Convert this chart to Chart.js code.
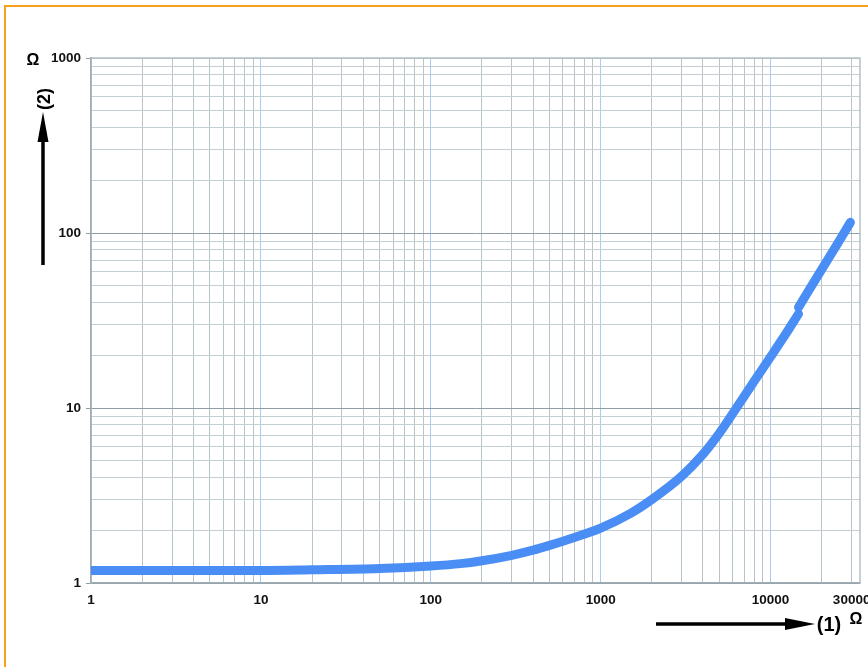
<!DOCTYPE html>
<html><head><meta charset="utf-8">
<script src="https://cdn.jsdelivr.net/npm/chart.js@4"></script>
<style>html,body{margin:0;padding:0;background:#fff;overflow:hidden;}</style>
</head><body>
<canvas id="c" width="868" height="667"></canvas>
<script>
// ---- data (curve has a small step at ~14.6 kΩ) ----
const lowerX = [1, 2, 5, 10, 20, 50, 100, 150, 200, 300, 400, 500, 700, 1000, 1500, 2000, 3000, 4000, 5000, 6000, 8000, 10000, 12000, 14600];
const lowerY = [1.18, 1.18, 1.18, 1.18, 1.19, 1.21, 1.25, 1.29, 1.34, 1.44, 1.54, 1.64, 1.82, 2.06, 2.5, 3.0, 4.08, 5.44, 7.19, 9.32, 14.2, 19.6, 25.6, 34.5];
const upperX = [14600, 20000, 25000, 29500];
const upperY = [37.6, 62, 88, 115];

const xTickValues = [1,2,3,4,5,6,7,8,9,10,20,30,40,50,60,70,80,90,100,200,300,400,500,600,700,800,900,1000,2000,3000,4000,5000,6000,7000,8000,9000,10000,20000,30000];
const xTickLabels = ['1','10','100','1000','10000','30000'];
const xLabelValues = [1,10,100,1000,10000,30000];
const yTickValues = [1,2,3,4,5,6,7,8,9,10,20,30,40,50,60,70,80,90,100,200,300,400,500,600,700,800,900,1000];
const yTickLabels = ['1','10','100','1000'];
const yLabelValues = [1,10,100,1000];
const xMin = 1, xMax = 33600, yMin = 1, yMax = 1000;

const toPoints = (xs, ys) => xs.map((x, i) => ({x: x, y: ys[i]}));
const isDecade = v => Math.abs(Math.log10(v) - Math.round(Math.log10(v))) < 1e-9;
const tickFont = {family: '"Liberation Sans", Arial, sans-serif', size: 13.5, weight: 'bold'};
const curveStyle = {
  borderColor: '#4a8ef5', backgroundColor: '#4a8ef5', borderWidth: 9, pointRadius: 0,
  borderCapStyle: 'round', borderJoinStyle: 'round', cubicInterpolationMode: 'monotone', fill: false
};

const decor = {
  id: 'decor',
  beforeDraw(chart) {
    const ctx = chart.ctx;
    ctx.save();
    ctx.fillStyle = '#ffffff';
    ctx.fillRect(0, 0, chart.width, chart.height);
    ctx.strokeStyle = '#f7a11a';
    ctx.lineWidth = 2;
    ctx.beginPath();
    ctx.moveTo(5, 667); ctx.lineTo(5, 6); ctx.lineTo(868, 6);
    ctx.stroke();
    ctx.restore();
  },
  afterDraw(chart) {
    const ctx = chart.ctx;
    const a = chart.chartArea;
    ctx.save();
    ctx.strokeStyle = '#b4c1c6';
    ctx.lineWidth = 1.5;
    ctx.beginPath();
    ctx.moveTo(a.left, a.top); ctx.lineTo(a.right, a.top); ctx.lineTo(a.right, a.bottom);
    ctx.stroke();
    ctx.strokeStyle = '#000'; ctx.fillStyle = '#000';
    ctx.lineWidth = 3.5;
    ctx.beginPath(); ctx.moveTo(43, 265); ctx.lineTo(43, 138); ctx.stroke();
    ctx.beginPath(); ctx.moveTo(43, 112); ctx.lineTo(37.5, 142); ctx.lineTo(48.5, 142); ctx.closePath(); ctx.fill();
    ctx.beginPath(); ctx.moveTo(656, 624); ctx.lineTo(788, 624); ctx.stroke();
    ctx.beginPath(); ctx.moveTo(815, 624); ctx.lineTo(785, 618); ctx.lineTo(785, 630); ctx.closePath(); ctx.fill();
    ctx.textAlign = 'center'; ctx.textBaseline = 'middle';
    ctx.font = 'bold 16px "Liberation Sans", Arial, sans-serif';
    ctx.fillText('\u03A9', 33, 61);
    ctx.fillText('\u03A9', 856, 620);
    ctx.font = 'bold 20px "Liberation Sans", Arial, sans-serif';
    ctx.fillText('(1)', 829, 625);
    ctx.save();
    ctx.translate(44, 99); ctx.rotate(-Math.PI / 2);
    ctx.font = 'bold 18px "Liberation Sans", Arial, sans-serif';
    ctx.fillText('(2)', 0, 1);
    ctx.restore();
    ctx.restore();
  }
};

new Chart(document.getElementById('c'), {
  type: 'line',
  data: {
    datasets: [
      Object.assign({data: toPoints(lowerX, lowerY)}, curveStyle),
      Object.assign({data: toPoints(upperX, upperY)}, curveStyle)
    ]
  },
  options: {
    responsive: false,
    animation: false,
    devicePixelRatio: 1,
    layout: {padding: {top: 58, right: 8, left: 0, bottom: 0}},
    plugins: {legend: {display: false}, tooltip: {enabled: false}},
    scales: {
      x: {
        type: 'logarithmic', min: xMin, max: xMax,
        afterBuildTicks: s => { s.ticks = xTickValues.map(v => ({value: v})); },
        afterFit: s => { s.height = 84; s.paddingLeft = 0; s.paddingRight = 0; },
        ticks: {
          autoSkip: false, maxRotation: 0, minRotation: 0, padding: 5,
          font: tickFont, color: '#111',
          callback: v => { const i = xLabelValues.indexOf(v); return i >= 0 ? xTickLabels[i] : ''; }
        },
        grid: {
          lineWidth: 1,
          tickLength: 4,
          tickColor: 'rgba(0,0,0,0)',
          color: c => (c.tick && isDecade(c.tick.value) && c.tick.value > 1) ? '#a9cdf6' : '#b7c4c8'
        },
        border: {display: true, color: '#9fadb3', width: 1.5}
      },
      y: {
        type: 'logarithmic', min: yMin, max: yMax,
        afterBuildTicks: s => { s.ticks = yTickValues.map(v => ({value: v})); },
        afterFit: s => { s.width = 91; s.paddingTop = 0; s.paddingBottom = 0; },
        ticks: {
          autoSkip: false, padding: 5,
          font: tickFont, color: '#111',
          callback: v => { const i = yLabelValues.indexOf(v); return i >= 0 ? yTickLabels[i] : ''; }
        },
        grid: {
          lineWidth: 1,
          tickLength: 5,
          tickColor: c => (c.tick && isDecade(c.tick.value)) ? '#8f9ea5' : 'rgba(0,0,0,0)',
          color: c => {
            if (!c.tick) return '#c4d0d4';
            const v = c.tick.value;
            if (v === 1000) return '#b4c1c6';
            if (isDecade(v)) return '#8f9ea5';
            return '#c2ced2';
          }
        },
        border: {display: true, color: '#9fadb3', width: 1.5}
      }
    }
  },
  plugins: [decor]
});
</script>
</body></html>
